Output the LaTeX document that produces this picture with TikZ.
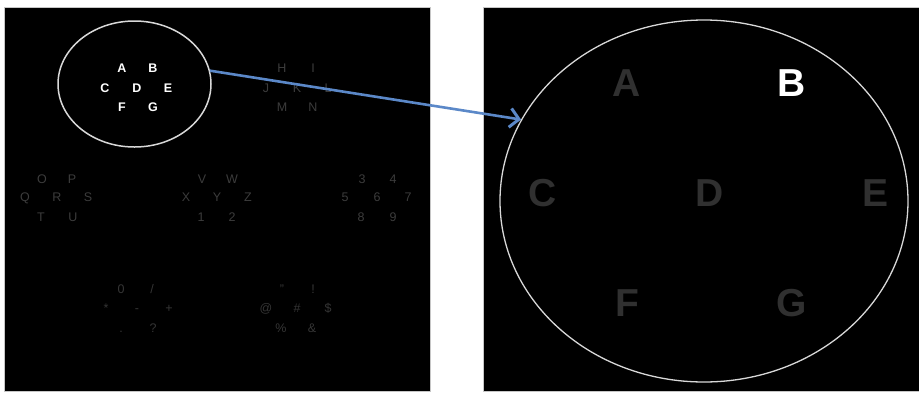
\documentclass[tikz,border=0pt]{standalone}
\usepackage{fontspec}
\setmainfont{Liberation Sans}
\usetikzlibrary{shapes.geometric,arrows.meta}
\definecolor{dimA}{HTML}{3C3C3C}
\definecolor{dimB}{HTML}{353535}
\definecolor{dimR}{HTML}{303030}
\definecolor{rimc}{HTML}{D8D8D8}
\definecolor{arrc}{HTML}{5B88C8}
\tikzset{
  panel/.style={fill=black, draw=gray!45, line width=0.6pt},
  rim/.style={draw=rimc, ellipse, inner sep=0pt},
  sml/.style={inner sep=0pt, text height=9pt, text depth=0pt, font=\fontsize{12.5}{14}\selectfont},
  smlw/.style={sml, text=white, font=\fontsize{12.5}{14}\selectfont\bfseries},
  smld/.style={sml, text=dimA},
  smls/.style={sml, text=dimB},
  big/.style={inner sep=0pt, text height=28pt, text depth=0pt, font=\fontsize{39}{44}\selectfont\bfseries, text=dimR},
  bigw/.style={big, text=white},
  zoomarrow/.style={draw=arrc, line width=2.6pt, -{Straight Barb[length=9pt,width=19pt,line width=3pt]}}
}
\begin{document}
\begin{tikzpicture}[x=1pt,y=-1pt]
\useasboundingbox (0,0) rectangle (919,392);
\fill[white] (0,0) rectangle (919,392);
\draw[panel] (4,7) rectangle (430,391);
\draw[panel] (483,7) rectangle (921,391);
% left small ellipse
\node[rim, line width=1.5pt, minimum width=153pt, minimum height=126pt] (lell) at (134.5,84) {};
% white group
\node[smlw] (la) at (122,68) {A};
\node[smlw] (lb) at (153,68) {B};
\node[smlw] (lc) at (105,88) {C};
\node[smlw] (ld) at (137,88) {D};
\node[smlw] (le) at (168,88) {E};
\node[smlw] (lf) at (122,107) {F};
\node[smlw] (lg) at (153,107) {G};
% H group
\node[smld] (h) at (282,68) {H};
\node[smld] (i) at (313,68) {I};
\node[smld] (j) at (266,88) {J};
\node[smld] (k) at (297,88) {K};
\node[smld] (l) at (328,88) {L};
\node[smld] (m) at (282,107) {M};
\node[smld] (n) at (313,107) {N};
% O group
\node[smld] (o) at (42,179) {O};
\node[smld] (p) at (72,179) {P};
\node[smld] (q) at (25,197) {Q};
\node[smld] (r) at (57,197) {R};
\node[smld] (s) at (88,197) {S};
\node[smld] (t) at (41,217) {T};
\node[smld] (u) at (73,217) {U};
% V group
\node[smld] (v) at (202,179) {V};
\node[smld] (w) at (232,179) {W};
\node[smld] (x) at (186,197) {X};
\node[smld] (y) at (217,197) {Y};
\node[smld] (z) at (248,197) {Z};
\node[smld] (n1) at (201,217) {1};
\node[smld] (n2) at (232,217) {2};
% 3 group
\node[smld] (n3) at (362,179) {3};
\node[smld] (n4) at (393,179) {4};
\node[smld] (n5) at (345,197) {5};
\node[smld] (n6) at (377,197) {6};
\node[smld] (n7) at (408,197) {7};
\node[smld] (n8) at (361,217) {8};
\node[smld] (n9) at (393,217) {9};
% symbol group 1
\node[smls] (n0) at (121,289) {0};
\node[smls] (sl) at (152,289) {/};
\node[smls] (st) at (106,308) {*};
\node[smls] (mi) at (137,308) {-};
\node[smls] (pl) at (169,308) {+};
\node[smls] (dt) at (121,328) {.};
\node[smls] (qm) at (153,328) {?};
% symbol group 2
\node[smls] (dq) at (282,289) {"};
\node[smls] (ex) at (313,289) {!};
\node[smls] (at) at (266,308) {@};
\node[smls] (hs) at (297,308) {\#};
\node[smls] (dl) at (328,308) {\$};
\node[smls] (pc) at (281,328) {\%};
\node[smls] (am) at (312,328) {\&};
% right big ellipse
\node[rim, line width=1.3pt, minimum width=408pt, minimum height=362pt] (rell) at (704,201) {};
\node[big] (ra) at (627,82) {A};
\node[bigw] (rb) at (792,82) {B};
\node[big] (rc) at (543,192) {C};
\node[big] (rd) at (710,192) {D};
\node[big] (re) at (875,192) {E};
\node[big] (rf) at (627,302) {F};
\node[big] (rg) at (792,302) {G};
% zoom arrow
\draw[zoomarrow] (lell.10) -- (rell.156);
\end{tikzpicture}
\end{document}
